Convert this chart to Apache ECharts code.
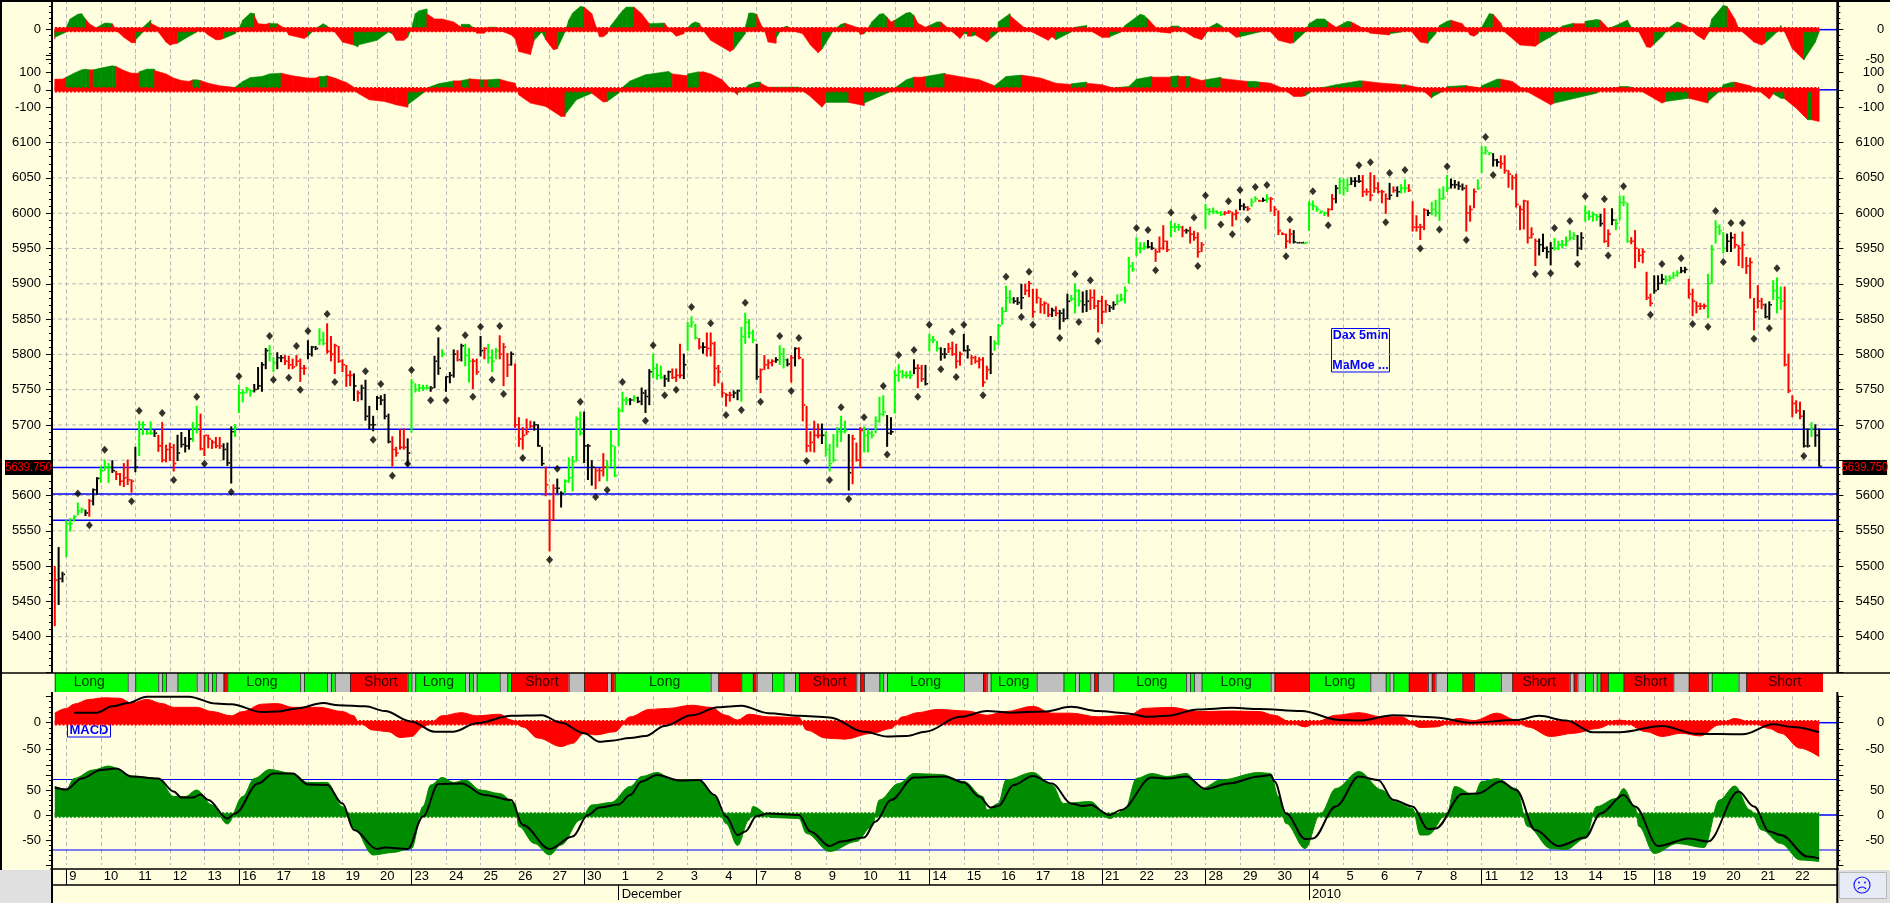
<!DOCTYPE html>
<html><head><meta charset="utf-8"><title>Dax 5min</title>
<style>html,body{margin:0;padding:0;background:#ffffe0;overflow:hidden}#c{width:1890px;height:903px}</style>
<script src="https://cdn.jsdelivr.net/npm/echarts@6/dist/echarts.min.js"></script></head>
<body><div id="c"></div><script>
const g='g',r='r',k='k',x='x';
const dayLabels=[9,10,11,12,13,16,17,18,19,20,23,24,25,26,27,30,1,2,3,4,7,8,9,10,11,14,15,16,17,18,21,22,23,28,29,30,4,5,6,7,8,11,12,13,14,15,18,19,20,21,22];
const weekStartDays=[0,5,10,15,20,25,30,33,36,41,46];
const monthLabels=[[16,'December'],[36,'2010']];
const priceLevels=[5694,5639.75,5602,5565];
const priceTicks=[5400,5450,5500,5550,5600,5650,5700,5750,5800,5850,5900,5950,6000,6050,6100];
const priceTickLabels=[5400,5450,5500,5550,5600,5700,5750,5800,5850,5900,5950,6000,6050,6100];
const stochLevels=[71,-70];
// high, low, close, colour
const barsNovDec=[
[5500,5415,5480,r],[5527,5445,5482,k],[5492,5477,5488,k],[5565,5513,5560,g],[5568,5549,5560,g],[5572,5563,5570,g],[5590,5572,5578,g],[5583,5575,5580,g],[5580,5571,5575,k],[5595,5570,5592,r],
[5610,5586,5608,k],[5626,5601,5624,k],[5642,5618,5635,g],[5651,5635,5640,g],[5646,5618,5640,g],[5650,5632,5635,k],[5635,5622,5630,r],[5632,5614,5620,r],[5646,5612,5625,r],[5651,5615,5622,r],
[5623,5604,5620,r],[5669,5633,5640,k],[5706,5656,5700,g],[5705,5686,5700,g],[5693,5686,5688,g],[5705,5686,5688,g],[5693,5683,5688,k],[5686,5662,5670,r],[5704,5647,5650,r],[5672,5647,5665,r],
[5675,5649,5668,r],[5673,5634,5645,r],[5686,5649,5660,k],[5690,5668,5672,k],[5683,5661,5670,k],[5693,5665,5680,k],[5704,5676,5695,g],[5727,5688,5700,g],[5716,5664,5666,r],[5686,5656,5685,r],
[5686,5667,5680,r],[5679,5666,5675,r],[5683,5667,5670,r],[5683,5666,5670,r],[5674,5650,5665,k],[5675,5642,5646,k],[5698,5617,5690,k],[5701,5683,5695,g],[5757,5717,5745,g],[5750,5732,5745,g],
[5754,5745,5750,g],[5750,5740,5748,g],[5758,5746,5750,k],[5782,5750,5755,k],[5789,5747,5785,k],[5809,5779,5805,k],[5813,5790,5800,g],[5796,5775,5788,g],[5803,5779,5795,k],[5799,5789,5795,k],
[5799,5785,5790,r],[5798,5779,5785,r],[5794,5779,5782,r],[5799,5783,5790,r],[5794,5761,5780,r],[5785,5771,5780,r],[5820,5793,5800,k],[5812,5797,5810,k],[5812,5806,5808,k],[5837,5813,5820,g],
[5832,5813,5815,g],[5844,5801,5804,r],[5826,5790,5800,r],[5815,5772,5812,r],[5812,5788,5790,r],[5793,5775,5785,r],[5785,5754,5770,r],[5777,5755,5770,r],[5773,5734,5755,k],[5749,5733,5745,r],
[5757,5735,5752,k],[5764,5706,5712,k],[5727,5694,5700,k],[5713,5691,5700,k],[5741,5721,5738,k],[5742,5728,5735,k],[5744,5708,5712,k],[5716,5674,5676,k],[5684,5641,5665,r],[5669,5655,5660,r],
[5694,5665,5668,r],[5695,5665,5668,r],[5681,5642,5660,k],[5765,5689,5760,g],[5759,5746,5750,g],[5758,5747,5752,g],[5757,5748,5752,g],[5757,5750,5752,g],[5755,5747,5752,k],[5798,5752,5790,k],
[5824,5771,5780,k],[5807,5796,5800,g],[5769,5747,5768,k],[5775,5759,5770,k],[5807,5767,5800,k],[5806,5790,5792,r],[5815,5790,5812,k],[5815,5783,5798,g],[5809,5760,5790,g],[5794,5751,5790,r],
[5794,5771,5775,r],[5826,5797,5805,k],[5810,5793,5808,r],[5815,5787,5795,g],[5807,5775,5790,g],[5809,5793,5805,g],[5827,5793,5800,r],[5816,5755,5810,r],[5802,5768,5785,r],[5804,5784,5800,k],
[5787,5696,5700,r],[5711,5669,5680,r],[5697,5665,5685,r],[5709,5686,5690,r],[5706,5695,5698,r],[5705,5692,5700,k],[5701,5669,5670,k],[5669,5642,5645,k],[5641,5599,5615,r],[5594,5521,5565,r],
[5616,5565,5610,r],[5624,5603,5610,k],[5606,5583,5603,k],[5623,5603,5620,g],[5654,5618,5625,g],[5656,5606,5648,g],[5712,5648,5708,g],[5719,5685,5688,g],[5719,5646,5670,k],[5673,5622,5670,k],
[5650,5614,5640,k],[5639,5609,5635,r],[5639,5620,5635,r],[5660,5627,5640,r],[5650,5620,5640,g],[5693,5641,5670,g],[5670,5626,5628,g],[5725,5670,5720,g],[5747,5718,5735,g],[5740,5728,5735,g]];
const barsDec=[
[5738,5728,5735,k],[5742,5733,5738,g],[5740,5731,5733,k],[5753,5728,5745,k],[5750,5717,5740,k],[5779,5728,5775,k],[5801,5766,5780,g],[5787,5764,5770,g],[5784,5765,5767,g],[5771,5754,5765,k],
[5777,5761,5775,k],[5780,5765,5767,r],[5780,5761,5770,r],[5815,5766,5770,r],[5801,5765,5785,k],[5846,5805,5840,g],[5854,5838,5845,g],[5843,5821,5823,g],[5823,5807,5810,r],[5817,5801,5810,k],
[5831,5797,5808,r],[5831,5797,5815,r],[5818,5755,5780,r],[5785,5759,5775,r],[5760,5739,5745,r],[5745,5726,5742,r],[5747,5733,5742,r],[5749,5738,5745,k],[5750,5735,5748,k],[5839,5733,5825,g],
[5859,5815,5845,g],[5850,5823,5830,g],[5835,5816,5820,g],[5815,5764,5768,k],[5780,5745,5778,r],[5799,5778,5785,r],[5793,5779,5788,r],[5793,5783,5790,r],[5796,5788,5792,k],[5813,5785,5800,g],
[5809,5780,5792,g],[5794,5783,5786,k],[5799,5760,5795,r],[5810,5783,5808,k],[5810,5793,5795,r],[5794,5705,5728,r],[5727,5661,5670,r],[5691,5662,5675,r],[5706,5661,5685,r],[5702,5681,5685,r],
[5702,5673,5685,k],[5691,5655,5665,g],[5673,5634,5645,g],[5687,5647,5650,g],[5697,5668,5690,g],[5713,5676,5690,g],[5706,5688,5692,g],[5687,5607,5632,k],[5686,5616,5680,r],[5675,5648,5650,r],
[5697,5639,5692,r],[5698,5661,5685,g],[5694,5661,5688,g],[5692,5681,5685,g],[5712,5688,5705,g],[5740,5703,5715,g],[5742,5712,5718,g],[5714,5669,5688,k],[5711,5686,5690,k],[5778,5716,5770,g],
[5786,5761,5775,g],[5778,5766,5770,g],[5776,5766,5770,g],[5777,5765,5770,g],[5793,5772,5780,k],[5786,5752,5780,r],[5785,5761,5765,r],[5785,5756,5758,k],[5829,5804,5820,g],[5826,5816,5820,g],
[5819,5804,5808,g],[5810,5791,5800,k],[5809,5794,5800,k],[5816,5802,5808,r],[5818,5798,5800,r],[5815,5780,5790,r],[5804,5784,5800,r],[5829,5804,5805,k],[5813,5794,5806,k],[5799,5785,5795,r],
[5798,5787,5790,r],[5796,5780,5792,r],[5796,5754,5760,r],[5784,5764,5778,r],[5826,5772,5800,k],[5820,5805,5815,g],[5843,5813,5840,g],[5867,5842,5860,g],
[5897,5860,5880,g],[5891,5872,5878,g],[5881,5872,5875,k],[5881,5870,5873,k],[5900,5864,5880,k],[5900,5884,5890,r],[5904,5881,5900,r],[5893,5852,5860,r],[5893,5872,5880,r],[5880,5858,5870,r],
[5875,5857,5872,r],[5872,5853,5856,r],[5866,5853,5862,k],[5868,5854,5858,r],[5863,5835,5858,k],[5865,5846,5850,k],[5886,5850,5875,k],[5884,5875,5878,g],[5900,5858,5890,g],[5892,5868,5875,g],
[5889,5859,5870,k],[5891,5860,5875,k],[5892,5863,5880,r],[5892,5864,5868,r],[5877,5831,5875,r],[5883,5843,5860,r],[5877,5859,5870,r],[5870,5860,5866,k],[5875,5863,5870,k],[5885,5870,5875,g],
[5886,5875,5878,g],[5896,5872,5890,g],[5938,5900,5925,g],[5931,5917,5920,g],[5966,5939,5950,g],[5959,5943,5950,g],[5959,5948,5952,g],[5962,5950,5952,k],[5959,5948,5950,k],[5950,5931,5945,r],
[5967,5944,5950,r],[5983,5948,5960,r],[5961,5945,5948,r],[5989,5966,5980,g],[5986,5973,5980,g],[5985,5975,5980,g],[5982,5966,5975,r],[5978,5971,5975,k],[5981,5957,5970,r],[5975,5961,5965,r],
[5973,5937,5945,r],[5959,5945,5955,r],[6013,5978,6005,g],[6007,5997,6002,g],[6008,5999,6002,g],[6004,5999,6000,g],[6003,5996,5998,g],[6003,5997,6000,r],[6004,5999,6002,r],[6002,5981,5998,r],
[6005,5990,6000,r],[6020,6004,6010,k],[6014,6004,6008,k],[6010,6003,6006,r],[6021,6009,6015,g],[6024,6016,6020,g],[6019,6016,6017,r]];
const barsJan=[
[6022,6016,6018,k],[6027,6015,6020,g],[6023,6002,6020,r],[6010,5996,6005,r],[6004,5969,5975,r],[5973,5969,5970,r],[5971,5950,5960,r],[5978,5957,5970,r],[5976,5957,5959,k],[5959,5957,5958,k],
[5959,5957,5958,k],[5959,5956,5958,g],[6017,5975,6012,g],[6018,6004,6010,g],[6010,6002,6005,g],[6004,5999,6002,g],[6002,5996,6000,g],[6007,5995,6005,r],[6027,6004,6020,r],[6040,6014,6035,k],
[6050,6027,6045,g],[6049,6025,6035,g],[6049,6030,6040,g],[6051,6040,6045,k],[6051,6037,6045,k],[6054,6043,6045,k],[6054,6023,6030,r],[6035,6025,6030,r],[6058,6017,6025,r],[6054,6029,6035,r],
[6044,6028,6030,r],[6033,6014,6030,r],[6028,5999,6020,r],[6043,6019,6025,k],[6038,6029,6032,r],[6038,6023,6030,k],[6041,6028,6035,g],[6048,6029,6035,g],[6041,6030,6032,r],[6017,5974,5980,r],
[5997,5974,5980,r],[5985,5962,5980,r],[6007,5976,6004,r],[6005,5996,6000,k],[6016,5997,6005,g],[6019,5995,6000,g],[6035,5989,6020,g],[6038,6019,6022,g],[6054,6030,6035,g],[6049,6035,6040,k],
[6047,6035,6040,k],[6045,6033,6038,k],[6042,6032,6035,k],[6040,5974,6000,r],[6011,5988,6005,r],[6035,6007,6030,r],[6048,6033,6035,g],[6095,6057,6085,g],[6095,6083,6088,g],[6087,6082,6085,g],
[6085,6066,6075,k],[6077,6066,6072,k],[6082,6063,6070,r],[6082,6056,6060,r],[6061,6036,6055,r],[6054,6033,6050,r],[6056,6008,6012,r],[6011,5976,6005,r],[6019,5977,6017,r],[6018,5957,5965,r],
[5980,5964,5970,r],[5964,5925,5960,r],[5964,5940,5955,k],[5971,5945,5950,k],[5953,5936,5945,k],[5959,5926,5950,k],[5965,5947,5950,g],[5961,5948,5955,g],[5962,5950,5955,g],[5967,5953,5960,g],
[5976,5961,5965,g],[5973,5962,5968,g],[5969,5939,5950,k],[5973,5948,5965,k],[6011,5988,6000,g],[6004,5990,5995,g],[6002,5988,5998,g],[5999,5989,5995,g],[5999,5981,5985,k],[6007,5958,5960,r],
[5977,5952,5970,r],[6007,5983,5990,k],[5992,5976,5985,g],[6025,5990,6015,g],[6025,6010,6015,g],[6015,5958,5960,g],[5966,5956,5960,r],[5976,5922,5950,r],[5950,5931,5940,r],[5950,5929,5945,r],
[5917,5877,5880,r],[5886,5868,5872,r],[5912,5886,5890,k],[5912,5891,5900,k],[5914,5900,5906,k],[5912,5898,5905,g],[5912,5903,5908,g],[5917,5907,5912,g],[5919,5910,5915,g],[5924,5915,5918,k],
[5924,5915,5920,k],[5907,5879,5885,r],[5893,5854,5875,r],[5875,5858,5868,r],[5873,5863,5868,r],[5872,5864,5868,r],[5914,5851,5900,g],[5955,5900,5948,g],[5990,5957,5980,g],[5984,5969,5975,g],
[5973,5943,5950,g],[5971,5945,5960,k],[5973,5945,5965,k],[5971,5950,5955,r],[5955,5925,5950,r],[5974,5922,5955,r],[5938,5914,5925,r],[5937,5879,5930,r],[5880,5834,5860,r],[5898,5865,5875,r],
[5880,5864,5870,r],[5872,5851,5853,k],[5875,5849,5870,k],[5905,5877,5890,g],[5909,5858,5880,g],[5896,5863,5875,g],[5896,5783,5785,r],[5801,5745,5748,r],[5742,5711,5730,r],[5735,5716,5720,r],
[5733,5708,5712,r],[5721,5668,5670,k],[5695,5668,5670,k],[5704,5683,5695,g],[5701,5669,5685,k],[5695,5641,5641,k]];
// bar position, price
const pivots=[
[7,5603],[10,5558],[14,5665],[21,5592],[23,5720],[29,5717],[32,5622],[38,5740],[40,5645],[47,5605],[49,5769],[57,5826],[58,5764],[62,5767],[64,5812],[65,5750],[67,5833],[72,5857],[74,5761],[82,5776],[84,5679],[86,5758],[89,5628],[93,5645],[94,5778],[99,5735],[101,5837],[103,5735],[108,5827],[110,5740],[112,5839],[115,5764],[117,5840],[118,5744],[123,5653],[130,5509],[132,5638],[138,5733],[142,5598],[145,5608],[149,5761],
[155,5706],[157,5813],[160,5742],[163,5750],[167,5867],[172,5844],[176,5714],[180,5721],[181,5873],[185,5733],[190,5826],[193,5748],[195,5823],[197,5649],[203,5622],[206,5725],[208,5595],[212,5711],[217,5755],[218,5658],[221,5799],[225,5806],[226,5740],[229,5842],[232,5779],[235,5832],[236,5768],[238,5842],[243,5742],[253,5853],[256,5842],[263,5823],[268,5846],[273,5819],
[249,5910],[255,5917],[267,5914],[271,5905],[283,5979],[286,5976],[288,5919],[292,6001],[298,5994],[299,5925],[301,6025],[305,5984],[307,6017],[308,5970],[310,6033],[312,5991],[314,6037],
[317,6040],[323,5991],[322,5939],[329,6031],[333,5983],[341,6068],[344,6072],[348,5987],[349,6057],[353,6061],[357,5950],[362,5977],[364,6066],[369,5962],[374,6108],[376,6054],[387,5914],[391,5915],[392,5979],[396,5989],[398,5928],[400,6024],[405,6020],[406,5940],[410,6038],[420,5928],[425,5936],[434,6003],[436,5931],[438,5986],[441,5986],[450,5922],
[417,5856],[428,5843],[432,5839],[444,5822],[448,5837],[457,5656]];
// bar position, value, colour
const momentumFast=[
[1,-16,r],[1,-13,g],[4,-4,g],[4,4,g],[5,18,g],[7,26,g],[8,27,g],[9,18,r],[10,10,r],[12,2,r],[12,4,g],[14,11,g],[15,11,g],[16,10,r],[17,-1,r],[19,-13,r],[21,-22,r],[22,-22,r],[22,-18,g],[24,-4,g],[24,4,g],[26,16,g],[26,11,r],[28,4,r],[28,-4,r],[30,-21,r],[31,-26,r],[32,-24,r],[33,-23,g],[35,-15,g],[38,-4,g],[38,4,g],[39,2,r],[41,-9,r],[43,-17,r],[44,-17,r],[45,-15,g],[48,-7,g],[49,2,g],[50,16,g],[52,28,g],[53,27,g],[53,24,r],[54,10,r],[56,9,r],[57,11,g],[58,10,g],[59,10,r],[61,2,r],[62,-9,r],[66,-15,r],[67,-11,g],[69,2,g],[71,10,g],[72,6,r],[74,-4,r],[76,-21,r],[79,-26,g],[80,-29,r],[80,-26,g],[85,-18,g],[88,-4,g],[89,-7,r],[90,-18,r],[92,-18,r],[93,-13,g],[94,2,g],[95,27,g],[96,32,g],[98,35,g],[98,27,r],[100,18,r],[102,18,g],[102,18,r],[105,13,r],[107,4,r],[107,9,g],[109,9,g],[110,4,r],[111,-6,r],[113,-6,r],[114,4,g],[116,4,g],[117,-1,r],[120,-9,r],[121,-15,r],[122,-37,r],[125,-42,r],[126,-18,g],[128,-4,g],[129,-17,r],[131,-34,r],[132,-32,g],[134,-4,g],[135,16,g],[136,28,g],[138,39,g],[139,38,r],[141,27,r],[142,7,r],[143,-12,r],[144,-12,r],[145,-7,g],[146,7,g],[149,32,g],[150,38,g],
[152,38,r],[154,27,r],[156,10,r],[156,10,g],[159,11,g],[160,11,r],[161,2,r],[163,-11,r],[165,-7,r],[165,-4,g],[167,10,g],[168,13,g],[169,11,r],[170,-1,r],[172,-18,r],[177,-37,r],[178,-33,g],[181,-7,g],[181,4,g],[182,28,g],[183,28,g],[184,26,r],[185,10,r],[186,-1,r],[187,-21,r],[189,-23,r],[189,-15,g],[190,-4,g],[191,4,g],[192,6,g],[193,-1,r],[196,-7,r],[198,-26,r],[200,-39,r],[201,-33,g],[203,-12,g],[204,-1,g],[206,9,g],[207,11,r],[210,4,r],[211,-8,r],[212,-7,g],[213,2,g],[214,13,g],[216,26,g],[217,27,g],[218,21,r],[219,13,r],[220,16,g],[223,28,g],[224,29,g],[225,24,r],[226,11,r],[228,4,r],[229,7,g],[231,13,g],[232,13,r],[234,2,r],[237,-15,r],[238,-7,g],[239,-7,g],[239,-11,r],[240,-11,g],[241,-9,g],[241,-9,r],[244,-21,r],[245,-15,g],[247,-4,g],[247,13,g],[250,27,g],[250,24,r],[252,13,r],[254,2,r],[260,-18,r],[261,-12,g],[261,-12,r],[262,-17,g],[266,-4,g],[267,4,g],[270,7,g],[270,2,r],[274,-13,r],[276,-13,r],[276,-12,g],[279,-4,g],[280,7,g],[284,26,g],[285,24,g],[286,18,r],[288,4,r],[289,-4,r],[292,-6,r],[292,6,g],[294,6,g],[295,-1,r],[298,-13,r],[300,-17,r],[301,-9,g],[302,4,g],[304,11,g],[305,7,g],[306,2,r],[309,-13,r],[310,-12,g],[315,-4,g],
[317,2,g],[318,-4,r],[320,-18,r],[323,-23,r],[324,-22,g],[327,-4,g],[328,10,g],[330,18,g],[332,18,g],[333,13,r],[335,4,r],[336,7,g],[338,14,g],[339,13,r],[341,6,r],[344,-6,r],[349,-9,r],[349,-7,g],[352,-4,g],[354,2,r],[357,-21,r],[359,-23,r],[359,-22,g],[361,-7,g],[362,7,g],[364,14,g],[365,16,r],[368,10,r],[370,-9,r],[371,-11,r],[372,-7,g],[373,4,g],[375,27,g],[376,26,r],[378,11,r],[379,-4,r],[383,-26,r],[387,-28,r],[388,-23,g],[391,-12,g],[393,-4,g],[394,6,g],[397,11,g],[397,10,r],[400,10,r],[400,14,g],[403,17,g],[404,16,r],[406,2,r],[406,2,g],[408,7,g],[411,16,g],[412,4,r],[414,-4,r],[416,-29,r],[417,-30,r],[418,-24,g],[420,-12,g],[422,4,g],[424,13,g],[425,11,r],[427,4,r],[429,-9,r],[431,-17,r],[432,-7,g],[433,18,g],[436,41,g],[437,39,r],[439,18,r],[440,2,r],[444,-21,r],[446,-26,r],[447,-22,g],[450,-4,g],[451,7,g],[451,4,g],[452,-4,r],[454,-32,r],[457,-51,r],[457,-51,g],[460,-21,g],[461,-4,g]];
const momentumSlow=[
[1,61,r],[3,61,r],[4,72,g],[6,95,g],[8,114,g],[9,118,g],[10,114,r],[11,114,r],[11,114,g],[13,124,g],[16,137,g],[17,133,r],[19,110,r],[21,95,r],[23,95,r],[23,103,g],[25,118,g],[27,118,g],[27,110,r],[30,91,r],[32,67,r],[34,53,r],[36,48,r],[37,57,g],[38,57,g],[39,53,r],[41,38,r],[44,23,r],[48,13,r],[48,15,g],[50,48,g],[52,70,g],[55,76,g],[57,91,g],[60,95,g],[60,95,r],[63,80,r],[67,67,r],[69,67,r],[70,76,g],[71,76,g],[72,80,r],[74,67,r],[77,42,r],[79,15,r],[80,-19,r],[83,-57,r],[87,-67,r],[90,-86,r],[93,-99,r],[93,-86,g],[97,-19,g],[98,10,g],[101,34,g],[105,51,g],[105,51,r],[107,51,r],[107,53,g],[109,61,g],[109,63,r],[112,57,r],[112,57,g],[113,57,g],[113,57,r],[114,57,r],[114,57,g],[116,61,g],[117,61,r],[119,48,r],[121,38,r],[122,-29,r],[125,-76,r],[129,-95,r],[133,-152,r],[134,-152,r],[134,-143,g],[137,-57,g],[141,-19,g],[141,-19,r],[144,-70,r],[145,-67,g],[148,-19,g],[149,15,g],[151,51,g],
[155,86,g],[161,105,g],[162,91,r],[166,80,r],[166,91,g],[169,103,g],[169,100,r],[170,103,r],[172,91,r],[175,57,r],[177,10,r],[179,-29,r],[179,-19,g],[181,10,g],[182,29,g],[184,44,g],[185,44,g],[185,38,r],[187,15,r],[189,15,g],[195,15,g],[195,10,r],[198,-38,r],[201,-99,r],[202,-72,g],[208,-72,g],[208,-72,r],[212,-90,r],[212,-76,g],[216,-38,g],[220,0,g],[220,10,g],[223,57,g],[225,72,g],[225,72,r],[227,72,r],[228,76,g],[233,95,g],[233,91,r],[238,72,r],[242,57,r],[246,23,r],[246,23,g],[249,76,g],[253,84,g],[253,84,r],[258,67,r],[262,38,r],[266,30,r],[266,34,g],[270,44,g],[270,38,r],[274,29,r],[277,10,r],[278,13,g],[281,19,g],[283,61,g],[287,76,g],[287,72,r],[292,72,r],[292,76,g],[294,80,g],[294,76,r],[296,76,r],[296,76,g],[297,76,g],[297,72,r],[300,53,r],[301,57,g],[305,72,g],[305,65,r],[312,48,r],[312,48,g],[314,48,g],
[315,44,r],[318,38,r],[321,10,r],[324,-38,r],[326,-38,r],[327,-34,g],[330,10,g],[332,15,g],[335,29,g],[341,51,g],[342,51,r],[347,38,r],[351,32,r],[352,29,g],[353,29,g],[353,29,r],[357,10,r],[360,-48,r],[360,-42,g],[364,4,g],[364,19,g],[369,25,g],[369,23,r],[373,10,r],[373,23,g],[377,61,g],[378,61,r],[381,48,r],[384,0,r],[391,-86,r],[392,-76,g],[403,-19,g],[404,0,r],[409,15,r],[409,19,g],[411,19,g],[412,15,r],[414,0,r],[420,-76,r],[421,-67,g],[427,-48,g],[427,-48,r],[432,-76,r],[432,-67,g],[435,-10,g],[436,29,g],[438,42,g],[439,44,r],[443,23,r],[445,0,r],[448,-53,r],[449,-23,g],[451,-48,g],[452,-51,r],[455,-105,r],[458,-171,r],[458,-171,g],[459,-171,g],[459,-171,r],[461,-181,r]];
// segment start, state
const signalStrip=[
[1,g],[20,x],[22,g],[28,x],[29,g],[30,x],[33,g],[38,x],[40,g],[41,x],[42,g],[43,x],[45,r],[46,g],[65,x],[66,g],[72,x],[73,g],[74,x],[78,r],[93,g],[94,x],[95,g],[108,x],[109,g],[110,x],[111,g],[117,x],[119,g],[120,r],[135,x],[139,r],[145,x],[146,r],[147,g],
[172,x],[174,r],[180,g],[183,r],[184,x],[188,g],[191,x],[194,g],[195,r],[210,x],[211,r],[212,x],[216,g],[217,x],[218,g],[238,x],[243,r],[244,x],[245,g],[257,x],[264,g],[267,x],[268,g],[271,x],[272,r],[273,x],[277,g],[296,x],[297,g],[298,x],[300,g],
[318,x],[319,r],[328,g],[344,x],[348,g],[349,x],[350,g],[354,r],[359,x],[360,r],[361,x],[364,g],[368,r],[371,g],[378,x],[381,r],[396,x],[397,r],[398,x],[400,g],[402,x],[403,g],[404,r],[406,g],[410,r],[423,x],[427,r],[432,x],[433,g],[440,x],[442,r],[462,null]];
const signalLabels=[[10,'Long'],[55,'Long'],[86,'Short'],[101,'Long'],[128,'Short'],[160,'Long'],[203,'Short'],[228,'Long'],[251,'Long'],[287,'Long'],[309,'Long'],[336,'Long'],[388,'Short'],[417,'Short'],[452,'Short']];
const macdHist=[[1,18],[4,27],[6,35],[10,44],[14,47],[18,46],[21,37],[25,44],[29,36],[32,29],[38,29],[42,21],[47,13],[50,21],[55,35],[59,36],[63,29],[70,29],[76,21],[79,13],[80,2],[84,-14],[88,-17],[91,-28],[94,-26],[97,-8],[99,0],[102,13],[107,19],[111,13],[117,16],[120,5],[123,-8],[127,-29],[133,-45],[136,-39],[139,-20],[142,-23],[147,-17],[151,11],[156,25],[161,27],[167,33],[172,29],[176,14],[179,5],[182,16],[187,11],[195,10],[197,-14],[202,-29],[207,-31],[214,-20],[219,-11],[222,11],[226,19],[231,25],[239,22],[244,14],[249,21],[256,31],[261,18],[266,18],[273,11],[281,14],[285,27],[292,29],[299,21],[308,22],[315,21],[319,14],[323,2],[327,-8],[330,2],[335,14],[341,19],[347,11],[352,11],[357,-9],[361,-8],[367,8],[371,4],[377,18],[382,5],[385,-8],[391,-26],[397,-20],[403,-11],[409,5],[416,-17],[420,-26],[425,-20],[430,-25],[435,-4],[439,8],[444,-1],[448,-11],[451,-20],[456,-48],[461,-64]];
const macdLine=[[6,19],[12,19],[16,31],[20,37],[25,49],[36,49],[43,36],[47,35],[55,20],[59,21],[64,27],[71,37],[75,33],[82,31],[87,22],[94,2],[100,-17],[105,-17],[111,-1],[120,13],[128,14],[133,0],[139,-20],[143,-36],[146,-34],[151,-29],[155,-25],[160,-6],[167,14],[174,29],[180,32],[187,18],[195,13],[203,10],[212,-17],[218,-26],[223,-25],[228,-17],[237,11],[244,22],[250,19],[259,21],[266,30],[273,22],[280,18],[286,11],[291,13],[299,25],[308,28],[315,26],[326,22],[336,5],[341,4],[350,14],[361,10],[370,0],[382,5],[388,13],[395,4],[402,-18],[409,-18],[420,-6],[429,-21],[441,-22],[449,-3],[454,-8],[461,-18]];
const stochHist=[[1,57],[4,51],[6,73],[11,90],[15,98],[21,78],[28,73],[32,37],[35,37],[38,50],[42,20],[46,-18],[50,37],[53,73],[57,91],[63,83],[67,65],[72,65],[76,17],[79,-27],[84,-80],[89,-75],[94,-67],[97,17],[99,60],[102,75],[105,65],[108,70],[112,50],[117,43],[121,23],[122,-23],[126,-57],[130,-80],[133,-60],[138,-10],[141,20],[146,25],[151,57],[154,77],[158,85],[162,71],[169,71],[173,37],[176,-17],[179,-61],[182,-10],[183,17],[188,-5],[195,-7],[197,-37],[203,-73],[210,-53],[214,-23],[216,30],[221,63],[225,83],[232,81],[238,67],[243,37],[244,10],[247,23],[249,70],[256,85],[261,60],[264,23],[271,27],[276,-7],[280,10],[283,73],[287,83],[291,77],[296,83],[300,53],[305,70],[315,85],[318,83],[320,37],[322,-17],[327,-67],[331,3],[335,53],[341,87],[347,50],[350,27],[355,13],[357,-40],[359,-40],[364,3],[366,57],[371,40],[373,67],[377,73],[382,53],[385,-23],[391,-67],[395,-69],[400,-47],[403,17],[408,33],[410,53],[413,17],[414,-23],[418,-77],[424,-57],[431,-65],[435,30],[439,58],[443,10],[446,-30],[451,-57],[456,-90],[461,-93]];
const stochLine=[[1,55],[4,51],[8,73],[13,90],[17,93],[21,77],[28,73],[32,47],[34,35],[37,35],[39,41],[41,30],[46,-7],[48,3],[54,63],[58,83],[63,83],[67,61],[72,60],[76,23],[79,-30],[85,-68],[87,-65],[93,-68],[97,-3],[101,62],[107,63],[113,40],[120,30],[123,-20],[130,-68],[136,-43],[140,0],[143,15],[148,21],[151,40],[154,67],[158,80],[164,69],[169,70],[173,40],[176,-3],[179,-40],[181,-33],[184,-2],[187,3],[195,0],[198,-33],[203,-62],[206,-53],[212,-45],[215,-13],[219,30],[225,75],[233,77],[238,65],[242,37],[245,15],[247,18],[251,60],[256,78],[261,63],[266,23],[269,18],[271,20],[276,0],[279,10],[287,75],[291,73],[296,77],[301,52],[307,63],[315,77],[318,80],[319,67],[322,3],[327,-48],[329,-47],[335,17],[341,77],[346,70],[350,30],[355,17],[359,-28],[361,-27],[368,42],[372,43],[378,67],[382,50],[387,-30],[393,-62],[400,-45],[404,3],[410,40],[413,17],[419,-62],[427,-47],[432,-53],[440,47],[444,17],[448,-33],[451,-40],[458,-83],[461,-87]];

const BG='#ffffe0',GRID='#b9b9b9',BLUE='#0000ff',RED='#ff0000',DGREEN='#008c00',LIME='#00ff00',GRAY='#bfbfbf';
const FONT='"Liberation Sans",Arial,sans-serif';
const N=467, cats=Array.from({length:N},(_,i)=>String(i));
const dayIdx=d=>4+9*d;
const isDayLine=i=>i>=4&&i<=dayIdx(50)&&(i-4)%9===0;
const weekSet=new Set(weekStartDays.map(dayIdx));
const monthMap=new Map(monthLabels.map(m=>[dayIdx(m[0]),m[1]]));
const bars=[...barsNovDec,...barsDec,...barsJan];
const STEP=3.8356, LEFT=50.96, W=STEP*(N-1);
const grids=[[-0.7,60],[54.8,52.5],[107.3,564.7],[673,19],[696.2,79.5],[765,100],[869,16],[885,15]]
  .map(a=>({left:LEFT,width:W,top:a[0],height:a[1],containLabel:false}));
const xAxis=grids.map((_,i)=>{
  const base={type:'category',data:cats,boundaryGap:false,gridIndex:i,axisLine:{show:false},axisTick:{show:false},axisLabel:{show:false},
    splitLine:{show:i!==3,interval:(n)=>isDayLine(n),lineStyle:{color:GRID,type:[4,3],width:1}}};
  if(i===6){Object.assign(base,{position:'top',axisLine:{show:true,onZero:false,lineStyle:{color:'#000',width:1.5}},
    splitLine:{show:true,interval:(n)=>weekSet.has(n),lineStyle:{color:'#000',width:1}},
    axisLabel:{show:true,inside:true,margin:1,align:'left',padding:[0,0,0,3],interval:(n)=>isDayLine(n),color:'#000',fontSize:13,fontFamily:FONT,
      formatter:(v,n)=>isDayLine(n)?String(dayLabels[(n-4)/9]):''}});}
  if(i===7){Object.assign(base,{position:'top',axisLine:{show:true,onZero:false,lineStyle:{color:'#000',width:1.5}},
    splitLine:{show:true,interval:(n)=>monthMap.has(n),lineStyle:{color:'#000',width:1}},
    axisLabel:{show:true,inside:true,margin:3,align:'left',padding:[0,0,0,3],interval:(n)=>monthMap.has(n),color:'#000',fontSize:13,fontFamily:FONT,
      formatter:(v,n)=>monthMap.get(n)||''}});}
  return base;});
function yA(gi,pos,min,max,interval,split,shown){
  return {type:'value',gridIndex:gi,position:pos,min,max,interval,offset:-1,scale:false,
    axisLine:{show:true,onZero:false,lineStyle:{color:'#000',width:2}},
    axisTick:{show:true,length:6,lineStyle:{color:'#000',width:1}},
    minorTick:{show:true,splitNumber:split,length:3,lineStyle:{color:'#000',width:1}},
    splitLine:{show:false},
    axisLabel:{show:true,color:'#000',fontSize:13,fontFamily:FONT,align:'right',margin:pos==='left'?11:47,padding:[3,0,0,0],showMinLabel:true,showMaxLabel:true,hideOverlap:false,
      formatter:v=>shown.includes(v)?String(v):''}};
}
const hiddenY=gi=>({type:'value',gridIndex:gi,min:0,max:1,show:false});
const yAxis=[
 yA(0,'left',-50,50,50,5,[0]),yA(0,'right',-50,50,50,5,[0,-50]),
 yA(1,'left',-100,200,100,2,[100,0,-100]),yA(1,'right',-100,200,100,2,[100,0,-100]),
 yA(2,'left',5350,6150,50,5,priceTickLabels),yA(2,'right',5350,6150,50,5,priceTickLabels),
 hiddenY(3),
 yA(4,'left',-100,50,50,5,[0,-50]),yA(4,'right',-100,50,50,5,[0,-50]),
 yA(5,'left',-100,100,50,5,[50,0,-50]),yA(5,'right',-100,100,50,5,[50,0,-50]),
 hiddenY(6),hiddenY(7)];

const common={silent:true,animation:false};
function hist(rows,gi,yi,colorOf,z){
  return {...common,type:'custom',xAxisIndex:gi,yAxisIndex:yi,z,progressive:0,clip:false,
    encode:{x:0,y:1},data:rows.map(a=>[a[0],a[1]]),
    renderItem(p,api){
      const a=rows[p.dataIndex],b=rows[p.dataIndex+1]; if(!b) return null;
      const c=colorOf(a);
      const pts=[api.coord([a[0],0]),api.coord([a[0],a[1]]),api.coord([b[0],b[1]]),api.coord([b[0],0])];
      return {type:'polygon',shape:{points:pts},style:{fill:c,stroke:c,lineWidth:0.6}};
    }};
}
const momColor=a=>a[2]===g?DGREEN:RED;
function lineS(gi,yi,data,color,width,z,type,smooth){
  return {...common,type:'line',xAxisIndex:gi,yAxisIndex:yi,data,symbol:'none',z,clip:false,smooth:smooth||false,smoothMonotone:smooth?'x':undefined,
    lineStyle:{color,width,type:type||'solid'}};
}
function area(gi,yi,data,color,z){
  return {...lineS(gi,yi,data,color,1,z,'solid',0.35),areaStyle:{color,opacity:1,origin:0}};
}
function band(gi,yi,color){
  return [lineS(gi,yi,[[1,0],[461,0]],color,3.6,4),lineS(gi,yi,[[1,0],[461,0]],color,5.4,4,[2.2,1.6])];
}
const barColor={g:LIME,r:RED,k:'#000'};
const series=[
 lineS(0,0,[[461,0],[466,0]],BLUE,1.5,2),
 hist(momentumFast,0,0,momColor,3),
 ...band(0,0,RED),
 lineS(1,2,[[461,0],[466,0]],BLUE,1.5,2),
 hist(momentumSlow,1,2,momColor,3),
 ...band(1,2,RED),
 ...priceTicks.map(v=>lineS(2,4,[[0,v],[466,v]],GRID,1,1,[4,3])),
 ...priceLevels.map(v=>lineS(2,4,[[0,v],[466,v]],BLUE,1.5,2)),
 {...common,type:'custom',xAxisIndex:2,yAxisIndex:4,z:5,progressive:0,clip:false,encode:{x:0,y:[1,2]},
  data:bars.map((b,i)=>[i+1,b[0],b[1],b[2]]),
  renderItem(p,api){
    const b=bars[p.dataIndex],i=p.dataIndex+1,c=barColor[b[3]];
    const hi=api.coord([i,b[0]]),lo=api.coord([i,b[1]]),cl=api.coord([i,b[2]]);
    return {type:'group',children:[
      {type:'rect',shape:{x:hi[0]-1,y:hi[1],width:2,height:Math.max(lo[1]-hi[1],1)},style:{fill:c}},
      {type:'rect',shape:{x:hi[0]+1,y:cl[1]-1,width:1.6,height:1.6},style:{fill:c}}]};
  }},
 {...common,type:'scatter',xAxisIndex:2,yAxisIndex:4,z:6,clip:false,data:pivots,symbol:'diamond',symbolSize:[7,8],itemStyle:{color:'#000'}},
 {...common,type:'custom',xAxisIndex:3,yAxisIndex:6,z:3,progressive:0,clip:false,encode:{x:0},
  data:signalStrip.map(a=>[a[0],0]),
  renderItem(p,api){
    const a=signalStrip[p.dataIndex],b=signalStrip[p.dataIndex+1]; if(!b) return null;
    const c=a[1]===g?LIME:a[1]===r?RED:GRAY;
    const t=api.coord([a[0],1]),e=api.coord([b[0],0]);
    return {type:'group',children:[
      {type:'rect',shape:{x:t[0],y:t[1],width:e[0]-t[0],height:e[1]-t[1]},style:{fill:c}},
      {type:'rect',shape:{x:t[0],y:t[1],width:0.8,height:e[1]-t[1]},style:{fill:'#222'}}]};
  }},
 {...common,type:'custom',xAxisIndex:3,yAxisIndex:6,z:4,progressive:0,clip:false,encode:{x:0},
  data:signalLabels.map(a=>[a[0],0.5]),
  renderItem(p,api){
    const a=signalLabels[p.dataIndex],c=api.coord([a[0],0.5]);
    return {type:'text',style:{x:c[0],y:c[1],text:a[1],fill:a[1]==='Short'?'#300':'#030',font:'14px '+FONT,textAlign:'center',textVerticalAlign:'middle'}};
  }},
 lineS(4,7,[[461,0],[466,0]],BLUE,1.5,2),
 area(4,7,macdHist,RED,3),
 ...band(4,7,RED),
 lineS(4,7,macdLine,'#000',2,5,'solid',0.35),
 ...stochLevels.map(v=>lineS(5,9,[[0,v],[466,v]],BLUE,1.2,2)),
 lineS(5,9,[[461,0],[466,0]],BLUE,1.5,2),
 area(5,9,stochHist,DGREEN,3),
 ...band(5,9,DGREEN),
 lineS(5,9,stochLine,'#000',2,5,'solid',0.35)
];
const ln=(x1,y1,x2,y2,w)=>({type:'line',z:20,silent:true,shape:{x1,y1,x2,y2},style:{stroke:'#000',lineWidth:w||2}});
const tag=(x0,w)=>({type:'group',z:30,silent:true,children:[
  {type:'rect',shape:{x:x0,y:460,width:w,height:15},style:{fill:'#000'}},
  {type:'text',x:x0+w/2,y:467.5,scaleX:0.86,style:{x:0,y:0,text:'5639.750',fill:'#ff0000',font:'13px '+FONT,textAlign:'center',textVerticalAlign:'middle'}}]});
const graphic=[
 {type:'rect',z:15,silent:true,shape:{x:0,y:870,width:52,height:33},style:{fill:'#e0e0e0'}},
 {type:'rect',z:15,silent:true,shape:{x:1838,y:870,width:52,height:33},style:{fill:'#e0e0e0'}},
 {type:'rect',z:16,silent:true,shape:{x:1839.5,y:872.5,width:47,height:26},style:{fill:'#e6ebf5',stroke:'#b8b8b8',lineWidth:1}},
 {type:'circle',z:17,silent:true,shape:{cx:1862,cy:885,r:8},style:{fill:'none',stroke:'#1a1aff',lineWidth:1.2}},
 {type:'circle',z:17,silent:true,shape:{cx:1859,cy:882.5,r:1},style:{fill:'#1a1aff'}},
 {type:'circle',z:17,silent:true,shape:{cx:1865,cy:882.5,r:1},style:{fill:'#1a1aff'}},
 {type:'arc',z:17,silent:true,shape:{cx:1862,cy:892,r:5,startAngle:Math.PI*1.2,endAngle:Math.PI*1.8},style:{fill:'none',stroke:'#1a1aff',lineWidth:1.2}},
 ln(1,0,1,870),ln(0,1,1890,1),ln(0,673,1890,673,1.5),
 ln(52,692,52,903),ln(1837.3,692,1837.3,903),ln(52,673,52,0),ln(1837.3,673,1837.3,0),
 tag(5,47),tag(1842.6,44.5),
 {type:'group',z:30,silent:true,children:[
  {type:'rect',shape:{x:67.5,y:723,width:43,height:14},style:{fill:BG,stroke:BLUE,lineWidth:1}},
  {type:'text',style:{x:89,y:730,text:'MACD',fill:BLUE,font:'bold 13px '+FONT,textAlign:'center',textVerticalAlign:'middle'}},
  {type:'rect',shape:{x:1331.5,y:328.5,width:58,height:43.5},style:{fill:BG,stroke:BLUE,lineWidth:1}},
  {type:'text',style:{x:1360.5,y:336,text:'Dax 5min',fill:BLUE,font:'bold 12.5px '+FONT,textAlign:'center',textVerticalAlign:'middle'}},
  {type:'text',style:{x:1360.5,y:366,text:'MaMoe ...',fill:BLUE,font:'bold 12.5px '+FONT,textAlign:'center',textVerticalAlign:'middle'}}]}
];
const chart=echarts.init(document.getElementById('c'),null,{renderer:'canvas',width:1890,height:903});
chart.setOption({animation:false,backgroundColor:BG,grid:grids,xAxis,yAxis,series,graphic});
</script></body></html>
